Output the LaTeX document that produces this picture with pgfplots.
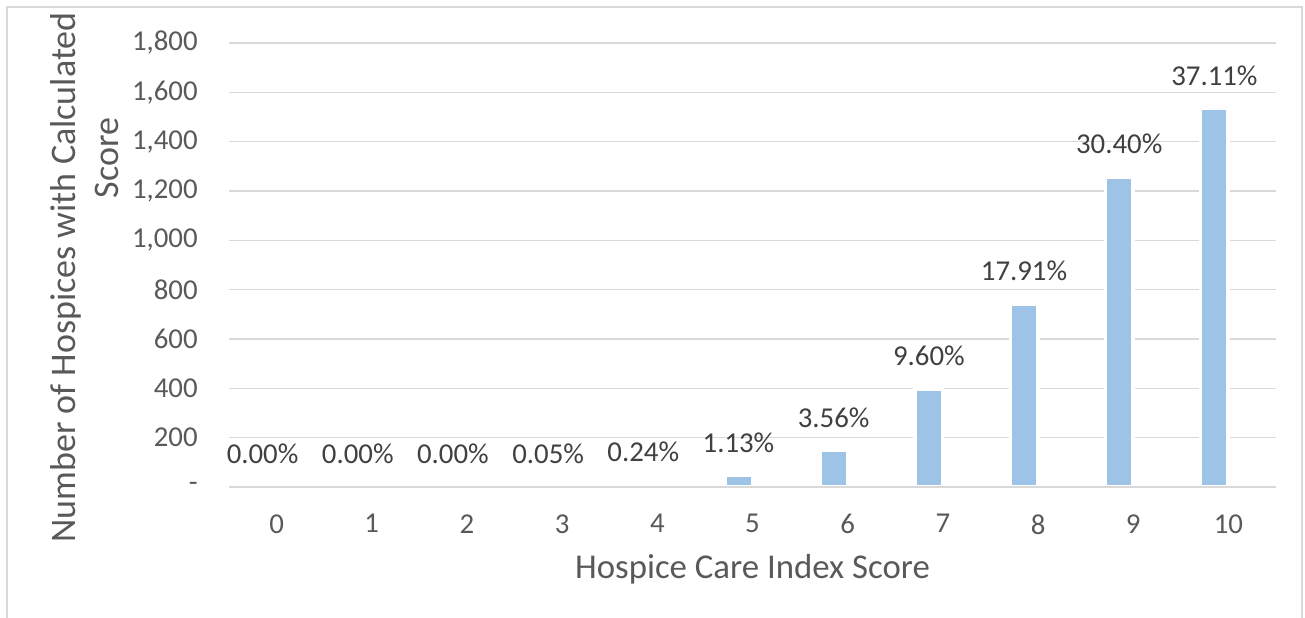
\documentclass[border=0pt]{standalone}
\usepackage{pgfplots}
\pgfplotsset{compat=1.18}
\usepackage{fontspec}
\setmainfont{Carlito}
\definecolor{barblue}{RGB}{157,195,230}
\definecolor{gridgray}{RGB}{217,217,217}
\definecolor{ticktext}{RGB}{89,89,89}
\definecolor{labeltext}{RGB}{64,64,64}
\begin{document}
\begin{tikzpicture}
\useasboundingbox (0,0) rectangle (652.5bp,309bp);
\draw[gridgray, line width=1bp] (3.5bp,0) -- (3.5bp,305.5bp) -- (651bp,305.5bp) -- (651bp,0);
\begin{axis}[
  at={(114.5bp,65.5bp)}, anchor=south west,
  scale only axis, width=523.5bp, height=222bp,
  xmin=-0.5, xmax=10.5, ymin=0, ymax=1800,
  axis x line*=bottom, axis y line*=left,
  y axis line style={draw=none},
  x axis line style={gridgray, line width=1bp},
  xtick={0,1,2,3,4,5,6,7,8,9,10},
  xticklabels={0,1,2,3,4,5,6,7,8,9,10},
  xtick style={draw=none},
  extra x ticks={-0.5,0.5,1.5,2.5,3.5,4.5,5.5,6.5,7.5,8.5,9.5,10.5},
  extra x tick labels={},
  extra x tick style={tick align=outside, major tick length=5bp, tick style={draw=gridgray, line width=1bp}, grid=none},
  ytick={0,200,400,600,800,1000,1200,1400,1600,1800},
  yticklabels={-,200,400,600,800,{1,000},{1,200},{1,400},{1,600},{1,800}},
  ytick style={draw=none},
  ymajorgrids, grid style={gridgray, line width=0.75bp},
  tick label style={font=\fontsize{14.4bp}{17bp}\selectfont, text=ticktext},
  yticklabel style={inner sep=0pt, anchor=east, xshift=-15.5bp},
  xticklabel style={inner sep=0pt, anchor=north, yshift=-13.5bp},
  xlabel={Hospice Care Index Score},
  xlabel style={at={(axis description cs:0.5,0)}, anchor=base, yshift=-45.5bp, inner sep=0pt, font=\fontsize{17.4bp}{21bp}\selectfont, text=ticktext},
  clip=false,
]
\addplot[ybar, bar width=13.75bp, bar shift=-7bp, fill=barblue, draw=white, line width=1.75bp,
  nodes near coords, point meta=explicit symbolic,
  every node near coord/.append style={font=\fontsize{14.4bp}{17bp}\selectfont, text=labeltext, anchor=south, inner sep=0pt, xshift=-7bp, yshift=11.5bp, line width=0pt}]
  coordinates {
  (0,0) [0.00\%]
  (1,0) [0.00\%]
  (2,0) [0.00\%]
  (3,2) [0.05\%]
  (4,10) [0.24\%]
  (5,47) [1.13\%]
  (6,147) [3.56\%]
  (7,397) [9.60\%]
  (8,741) [17.91\%]
  (9,1257) [30.40\%]
  (10,1535) [37.11\%]
  };
\addplot[sharp plot, no marks, gridgray, line width=1bp] coordinates {(-0.5,0) (10.5,0)};
\end{axis}
\node[rotate=90, anchor=base, inner sep=0pt, font=\fontsize{18bp}{21bp}\selectfont, text=ticktext] at (37.5bp,170.25bp) {Number of Hospices with Calculated};
\node[rotate=90, anchor=base, inner sep=0pt, font=\fontsize{18bp}{21bp}\selectfont, text=ticktext] at (59bp,230bp) {Score};
\end{tikzpicture}
\end{document}
